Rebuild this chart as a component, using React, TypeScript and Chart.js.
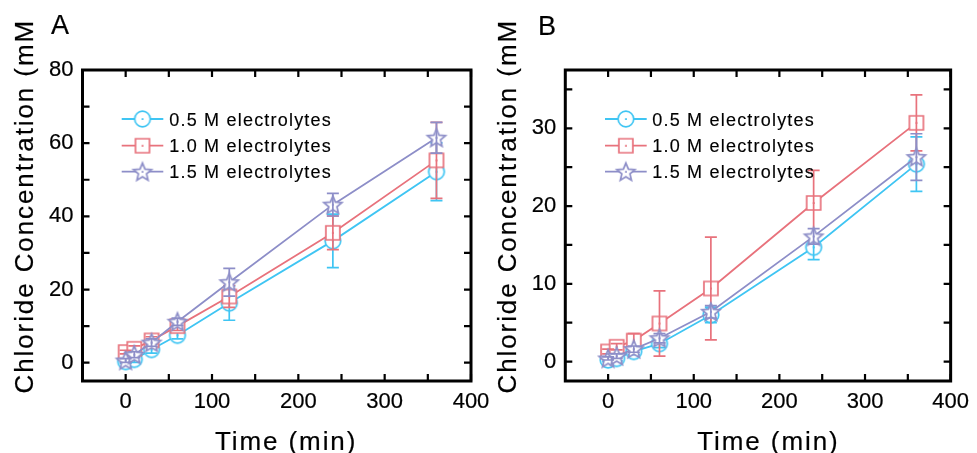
import React, { useEffect, useRef } from 'react';
import { Chart, registerables } from 'chart.js';

Chart.register(...registerables);

// ---------- data ----------
const timeMin = [0, 10, 30, 60, 120, 240, 360];
const seriesLabels = ['0.5 M electrolytes', '1.0 M electrolytes', '1.5 M electrolytes'];
const seriesColors = ['#3FC5F3', '#E8727C', '#8D8EC8'];
const markerShapes = ['circle', 'square', 'star'];

// Panel A
const aMean05 = [0.3, 0.9, 3.6, 7.5, 16.3, 33.3, 52.2];
const aMean10 = [2.9, 3.8, 6.1, 10.0, 18.1, 35.5, 55.3];
const aMean15 = [0.6, 2.2, 5.5, 11.2, 22.0, 43.2, 61.5];
const aErr05 = [0.5, 0.8, 1.0, 1.0, 4.7, 7.3, 7.9];
const aErr10 = [0.5, 0.8, 1.0, 1.2, 3.0, 4.6, 10.4];
const aErr15 = [0.5, 0.8, 1.0, 1.0, 3.8, 3.1, 4.2];

// Panel B
const bMean05 = [0.2, 0.4, 1.3, 2.3, 6.0, 14.7, 25.4];
const bMean10 = [1.3, 1.9, 2.7, 4.9, 9.4, 20.4, 30.7];
const bMean15 = [0.4, 0.7, 1.6, 3.0, 6.4, 16.1, 26.3];
const bErr05 = [0.2, 0.3, 0.4, 0.5, 1.0, 1.6, 3.5];
const bErr10 = [0.3, 0.4, 0.9, 4.2, 6.6, 4.2, 3.6];
const bErr15 = [0.2, 0.3, 0.4, 0.6, 0.8, 1.0, 3.0];

// ticks
const xMajorTicks = [0, 100, 200, 300, 400];
const xMinorTicks = [50, 150, 250, 350];
const aYMajorTicks = [0, 20, 40, 60, 80];
const aYMinorTicks = [10, 30, 50, 70];
const bYMajorTicks = [0, 10, 20, 30];
const bYMinorTicks = [5, 15, 25, 35];

const panelLetters = ['A', 'B'];
const yTitleText = 'Chloride Concentration (mM';
const xTitleText = 'Time (min)';

const FONT = '"Liberation Sans", Arial, sans-serif';

function makeMarker(shape: string, color: string): HTMLCanvasElement {
  const c = document.createElement('canvas');
  c.width = 24;
  c.height = 24;
  const g = c.getContext('2d')!;
  g.strokeStyle = color;
  g.fillStyle = '#ffffff';
  g.lineWidth = 1.7;
  g.beginPath();
  if (shape === 'circle') {
    g.arc(12, 12, 7.8, 0, Math.PI * 2);
  } else if (shape === 'square') {
    g.rect(5, 5, 14, 14);
  } else {
    const R = 9.5;
    const r = R * 0.45;
    for (let i = 0; i < 10; i++) {
      const rr = i % 2 === 0 ? R : r;
      const a = -Math.PI / 2 + (i * Math.PI) / 5;
      const px = 12 + rr * Math.cos(a);
      const py = 12.8 + rr * Math.sin(a);
      if (i === 0) g.moveTo(px, py);
      else g.lineTo(px, py);
    }
  }
  g.closePath();
  g.fill();
  g.stroke();
  g.fillStyle = color;
  g.fillRect(11.2, 11.2, 1.8, 1.8);
  return c;
}

type PanelCfg = {
  letter: string;
  letterX: number;
  letterY: number;
  yTitleX: number;
  xTitleX: number;
  means: number[][];
  errs: number[][];
  yMin: number;
  yMax: number;
  yMajor: number[];
  yMinor: number[];
  padLeft: number;
  padRight: number;
  legendLineStart: number;
  legendLineEnd: number;
  legendTextX: number;
};

const legendRows = [119, 145.7, 171.7];

function strokeFill(ctx: CanvasRenderingContext2D, text: string, x: number, y: number, w: number) {
  ctx.lineWidth = w;
  ctx.strokeStyle = '#000';
  ctx.strokeText(text, x, y);
  ctx.fillText(text, x, y);
}

function buildChart(canvas: HTMLCanvasElement, cfg: PanelCfg) {
  const markers = seriesColors.map((c, i) => makeMarker(markerShapes[i], c));

  const datasets = seriesLabels.map((label, i) => ({
    label,
    data: timeMin.map((t, k) => ({ x: t, y: cfg.means[i][k] })),
    borderColor: seriesColors[i],
    backgroundColor: '#ffffff',
    borderWidth: 1.8,
    pointStyle: markers[i] as any,
    pointRadius: 8,
    tension: 0,
    order: 3 - i,
  }));

  const framePlugin = {
    id: 'frame',
    beforeDatasetsDraw(chart: any) {
      const { ctx, chartArea } = chart;
      const xs = chart.scales.x;
      const ys = chart.scales.y;
      const { left, right, top, bottom } = chartArea;
      ctx.save();
      ctx.strokeStyle = '#000';
      ctx.lineWidth = 2.2;
      const tl = 7;
      ctx.beginPath();
      [...xMajorTicks, ...xMinorTicks].forEach((v) => {
        const px = xs.getPixelForValue(v);
        ctx.moveTo(px, bottom);
        ctx.lineTo(px, bottom - tl);
        ctx.moveTo(px, top);
        ctx.lineTo(px, top + tl);
      });
      [...cfg.yMajor, ...cfg.yMinor].forEach((v) => {
        const py = ys.getPixelForValue(v);
        ctx.moveTo(left, py);
        ctx.lineTo(left + tl, py);
        ctx.moveTo(right, py);
        ctx.lineTo(right - tl, py);
      });
      ctx.stroke();
      ctx.lineWidth = 3;
      ctx.strokeRect(left, top, right - left, bottom - top);
      ctx.restore();
    },
  };

  const errorPlugin = {
    id: 'errbars',
    afterDatasetDraw(chart: any, args: any) {
      const i = args.index;
      const { ctx } = chart;
      const xs = chart.scales.x;
      const ys = chart.scales.y;
      ctx.save();
      ctx.strokeStyle = seriesColors[i];
      ctx.lineWidth = 1.7;
      ctx.beginPath();
      timeMin.forEach((t, k) => {
        const m = cfg.means[i][k];
        const e = cfg.errs[i][k];
        const px = xs.getPixelForValue(t);
        const y1 = ys.getPixelForValue(m + e);
        const y2 = ys.getPixelForValue(m - e);
        ctx.moveTo(px, y1);
        ctx.lineTo(px, y2);
        ctx.moveTo(px - 6, y1);
        ctx.lineTo(px + 6, y1);
        ctx.moveTo(px - 6, y2);
        ctx.lineTo(px + 6, y2);
      });
      ctx.stroke();
      ctx.restore();
    },
  };

  const decorPlugin = {
    id: 'decor',
    afterDraw(chart: any) {
      const { ctx } = chart;
      ctx.save();
      // legend
      seriesLabels.forEach((label, i) => {
        const y = legendRows[i];
        ctx.strokeStyle = seriesColors[i];
        ctx.lineWidth = 1.8;
        ctx.beginPath();
        ctx.moveTo(cfg.legendLineStart, y);
        ctx.lineTo(cfg.legendLineEnd, y);
        ctx.stroke();
        const mk = markers[i];
        const cx = (cfg.legendLineStart + cfg.legendLineEnd) / 2;
        ctx.drawImage(mk, cx - mk.width / 2, y - mk.height / 2);
        ctx.fillStyle = '#000';
        ctx.font = `18px ${FONT}`;
        ctx.textAlign = 'left';
        ctx.textBaseline = 'alphabetic';
        (ctx as any).letterSpacing = '1.2px';
        strokeFill(ctx, label, cfg.legendTextX, y + 6.6, 0.15);
      });
      // panel letter
      (ctx as any).letterSpacing = '0px';
      ctx.fillStyle = '#000';
      ctx.font = `27px ${FONT}`;
      ctx.textAlign = 'left';
      ctx.textBaseline = 'alphabetic';
      strokeFill(ctx, cfg.letter, cfg.letterX, cfg.letterY, 0.2);
      // x title
      ctx.font = `26px ${FONT}`;
      (ctx as any).letterSpacing = '1.9px';
      strokeFill(ctx, xTitleText, cfg.xTitleX, 450, 0.2);
      // y title
      ctx.translate(cfg.yTitleX, 393.5);
      ctx.rotate(-Math.PI / 2);
      strokeFill(ctx, yTitleText, 0, 0, 0.2);
      (ctx as any).letterSpacing = '0px';
      ctx.restore();
    },
  };

  const tickFont = { family: FONT, size: 22 };

  return new Chart(canvas, {
    type: 'line',
    data: { datasets: datasets as any },
    options: {
      animation: false,
      responsive: false,
      devicePixelRatio: 1,
      layout: { padding: { left: cfg.padLeft, right: cfg.padRight, top: 70, bottom: 0 } },
      plugins: { legend: { display: false }, tooltip: { enabled: false } },
      scales: {
        x: {
          type: 'linear',
          min: -50,
          max: 400,
          afterBuildTicks: (axis: any) => {
            axis.ticks = xMajorTicks.map((v) => ({ value: v }));
          },
          afterFit: (s: any) => {
            s.height = 72;
          },
          grid: { display: false, drawTicks: false },
          border: { display: false },
          ticks: {
            font: tickFont,
            color: '#000',
            padding: 8,
            maxRotation: 0,
            autoSkip: false,
            textStrokeColor: '#000',
            textStrokeWidth: 0.2,
          },
        },
        y: {
          type: 'linear',
          min: cfg.yMin,
          max: cfg.yMax,
          afterBuildTicks: (axis: any) => {
            axis.ticks = cfg.yMajor.map((v) => ({ value: v }));
          },
          afterFit: (s: any) => {
            s.width = 82.5;
          },
          grid: { display: false, drawTicks: false },
          border: { display: false },
          ticks: {
            font: tickFont,
            color: '#000',
            padding: 9,
            autoSkip: false,
            textStrokeColor: '#000',
            textStrokeWidth: 0.2,
          },
        },
      },
    } as any,
    plugins: [framePlugin, errorPlugin, decorPlugin],
  });
}

const panelA: PanelCfg = {
  letter: panelLetters[0],
  letterX: 51,
  letterY: 34,
  yTitleX: 32.5,
  xTitleX: 215,
  means: [aMean05, aMean10, aMean15],
  errs: [aErr05, aErr10, aErr15],
  yMin: -5,
  yMax: 80,
  yMajor: aYMajorTicks,
  yMinor: aYMinorTicks,
  padLeft: 0,
  padRight: 977 - 471,
  legendLineStart: 121.7,
  legendLineEnd: 163.3,
  legendTextX: 169.3,
};

const panelB: PanelCfg = {
  letter: panelLetters[1],
  letterX: 538,
  letterY: 35,
  yTitleX: 515.5,
  xTitleX: 697.3,
  means: [bMean05, bMean10, bMean15],
  errs: [bErr05, bErr10, bErr15],
  yMin: -2.5,
  yMax: 37.5,
  yMajor: bYMajorTicks,
  yMinor: bYMinorTicks,
  padLeft: 565.3 - 82.5,
  padRight: 977 - 953.3,
  legendLineStart: 605,
  legendLineEnd: 646.7,
  legendTextX: 652.3,
};

export default function App() {
  const refA = useRef<HTMLCanvasElement>(null);
  const refB = useRef<HTMLCanvasElement>(null);

  useEffect(() => {
    const ca = buildChart(refA.current!, panelA);
    const cb = buildChart(refB.current!, panelB);
    return () => {
      ca.destroy();
      cb.destroy();
    };
  }, []);

  const cstyle: React.CSSProperties = { position: 'absolute', left: 0, top: 0, width: 977, height: 453 };
  return (
    <div style={{ position: 'absolute', left: 0, top: 0, width: 977, height: 453, background: '#fff', overflow: 'hidden' }}>
      <canvas ref={refA} width={977} height={453} style={cstyle} />
      <canvas ref={refB} width={977} height={453} style={cstyle} />
    </div>
  );
}
